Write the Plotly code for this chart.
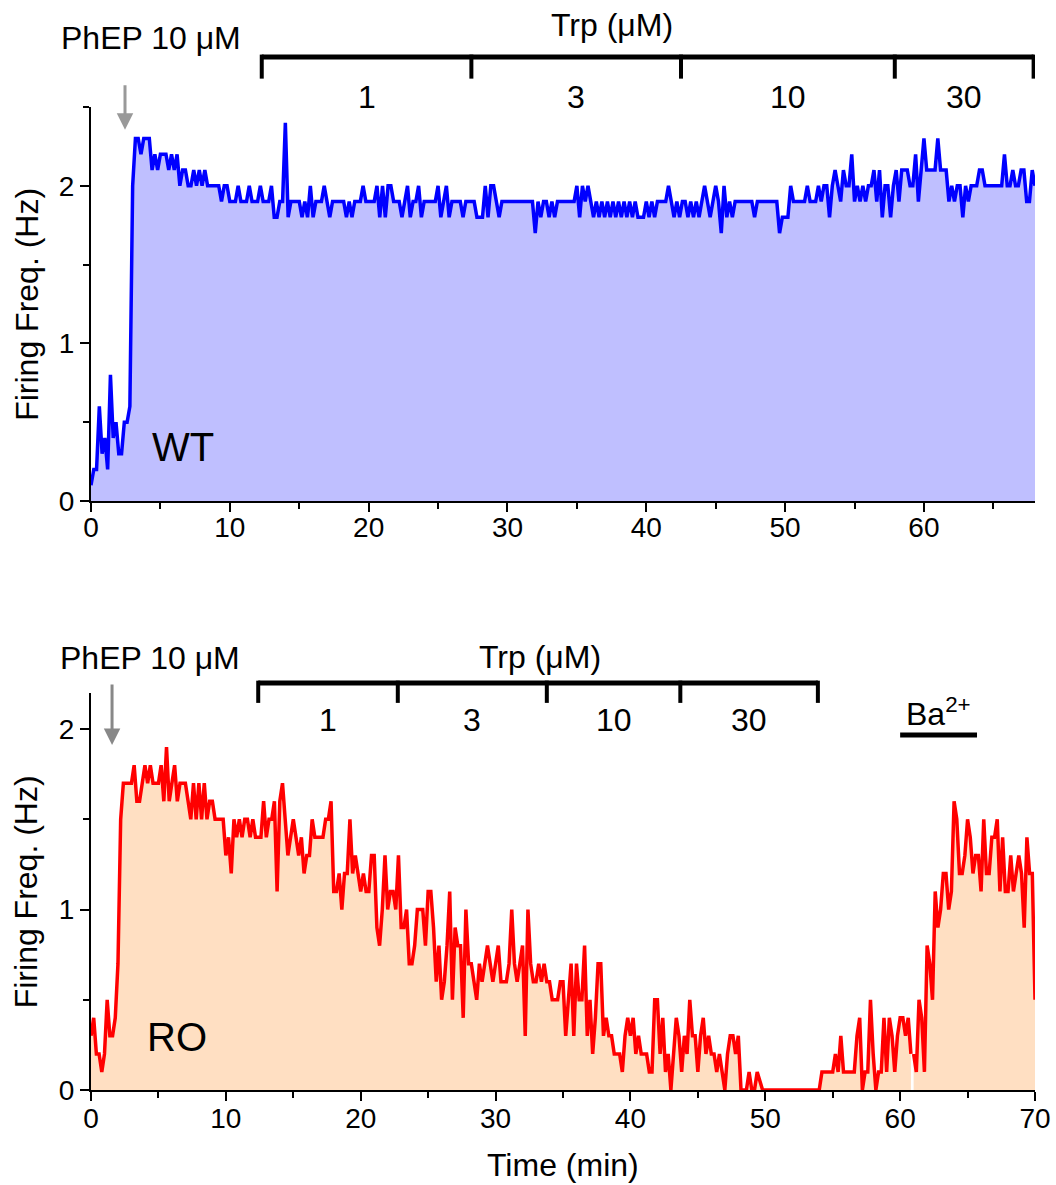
import numpy as np
import plotly.graph_objects as go

DT = 0.2  # minutes between samples

# WT firing frequency (Hz), 0.0 .. 68.0 min
WT_FREQ = [
    0.1, 0.2, 0.2, 0.6, 0.3, 0.4, 0.2, 0.8, 0.4, 0.5,
    0.3, 0.3, 0.5, 0.5, 0.6, 2.0, 2.3, 2.3, 2.2, 2.3,
    2.3, 2.3, 2.1, 2.2, 2.1, 2.2, 2.2, 2.2, 2.1, 2.2,
    2.1, 2.2, 2.0, 2.1, 2.1, 2.0, 2.0, 2.1, 2.0, 2.1,
    2.0, 2.1, 2.0, 2.0, 2.0, 2.0, 2.0, 1.9, 2.0, 2.0,
    1.9, 1.9, 1.9, 2.0, 1.9, 1.9, 1.9, 2.0, 1.9, 1.9,
    1.9, 2.0, 1.9, 1.9, 1.9, 2.0, 1.8, 1.8, 1.9, 1.9,
    2.4, 1.8, 1.9, 1.9, 1.9, 1.9, 1.8, 1.9, 1.8, 2.0,
    1.8, 1.9, 1.9, 1.9, 2.0, 1.9, 1.8, 1.9, 1.9, 1.9,
    1.9, 1.9, 1.8, 1.9, 1.8, 1.9, 1.9, 1.9, 2.0, 1.9,
    1.9, 1.9, 1.9, 2.0, 1.8, 2.0, 1.8, 2.0, 2.0, 1.9,
    1.9, 1.9, 1.8, 1.9, 2.0, 1.8, 1.9, 1.9, 2.0, 1.8,
    1.9, 1.9, 1.9, 1.9, 1.9, 2.0, 1.8, 1.9, 2.0, 1.8,
    1.9, 1.9, 1.9, 1.9, 1.8, 1.9, 1.9, 1.9, 1.9, 1.8,
    1.8, 1.8, 2.0, 1.8, 2.0, 2.0, 1.9, 1.8, 1.9, 1.9,
    1.9, 1.9, 1.9, 1.9, 1.9, 1.9, 1.9, 1.9, 1.9, 1.9,
    1.7, 1.9, 1.8, 1.9, 1.9, 1.8, 1.9, 1.8, 1.9, 1.9,
    1.9, 1.9, 1.9, 1.9, 1.9, 2.0, 1.8, 2.0, 1.9, 2.0,
    1.9, 1.8, 1.9, 1.8, 1.9, 1.8, 1.9, 1.8, 1.9, 1.8,
    1.9, 1.8, 1.9, 1.8, 1.9, 1.8, 1.9, 1.8, 1.8, 1.8,
    1.9, 1.8, 1.9, 1.8, 1.9, 1.9, 1.9, 1.9, 2.0, 1.9,
    1.8, 1.9, 1.8, 1.9, 1.9, 1.8, 1.9, 1.8, 1.9, 1.8,
    1.9, 2.0, 1.9, 1.8, 1.9, 2.0, 1.9, 1.7, 2.0, 1.8,
    1.9, 1.8, 1.9, 1.9, 1.9, 1.9, 1.9, 1.9, 1.9, 1.8,
    1.9, 1.9, 1.9, 1.9, 1.9, 1.9, 1.9, 1.9, 1.7, 1.8,
    1.8, 1.8, 2.0, 1.9, 1.9, 1.9, 1.9, 1.9, 2.0, 1.9,
    1.9, 1.9, 2.0, 1.9, 2.0, 2.0, 1.8, 2.0, 2.1, 2.0,
    1.9, 2.1, 2.0, 2.0, 2.2, 1.9, 2.0, 1.9, 2.0, 1.9,
    2.0, 2.0, 2.1, 1.9, 2.1, 1.8, 2.0, 2.0, 1.8, 2.0,
    2.1, 1.9, 2.1, 2.1, 2.1, 2.0, 2.0, 2.2, 1.9, 2.1,
    2.3, 2.1, 2.1, 2.1, 2.1, 2.3, 2.1, 2.1, 2.1, 1.9,
    2.0, 1.9, 2.0, 2.0, 1.8, 2.0, 1.9, 2.0, 2.0, 2.0,
    2.1, 2.1, 2.0, 2.0, 2.0, 2.0, 2.0, 2.0, 2.0, 2.2,
    2.0, 2.0, 2.1, 2.0, 2.0, 2.1, 2.1, 1.9, 1.9, 2.1,
    2.0,
]

# RO firing frequency (Hz), first segment 0.0 .. 60.8 min
RO_FREQ_A = [
    0.3, 0.4, 0.2, 0.2, 0.1, 0.2, 0.5, 0.3, 0.3, 0.4,
    0.7, 1.5, 1.7, 1.7, 1.7, 1.7, 1.8, 1.6, 1.6, 1.7,
    1.8, 1.7, 1.8, 1.7, 1.7, 1.7, 1.8, 1.6, 1.9, 1.6,
    1.7, 1.8, 1.6, 1.7, 1.7, 1.7, 1.6, 1.5, 1.7, 1.5,
    1.7, 1.5, 1.7, 1.5, 1.6, 1.6, 1.5, 1.5, 1.5, 1.5,
    1.3, 1.4, 1.2, 1.5, 1.4, 1.5, 1.4, 1.5, 1.5, 1.4,
    1.5, 1.4, 1.4, 1.4, 1.6, 1.4, 1.5, 1.5, 1.6, 1.1,
    1.6, 1.7, 1.5, 1.3, 1.4, 1.5, 1.4, 1.3, 1.4, 1.2,
    1.3, 1.3, 1.5, 1.4, 1.4, 1.4, 1.4, 1.5, 1.5, 1.6,
    1.1, 1.1, 1.2, 1.0, 1.2, 1.2, 1.5, 1.2, 1.3, 1.2,
    1.1, 1.2, 1.1, 1.1, 1.3, 1.3, 0.9, 0.8, 1.0, 1.3,
    1.0, 1.1, 1.1, 1.0, 1.3, 0.9, 0.9, 1.0, 0.7, 0.7,
    0.8, 1.0, 1.0, 1.0, 0.8, 1.1, 1.1, 0.9, 0.6, 0.8,
    0.5, 0.6, 0.8, 1.1, 0.5, 0.9, 0.8, 0.8, 0.4, 1.0,
    0.7, 0.7, 0.6, 0.5, 0.7, 0.6, 0.7, 0.8, 0.7, 0.6,
    0.7, 0.8, 0.6, 0.6, 0.6, 0.7, 1.0, 0.7, 0.6, 0.7,
    0.8, 0.3, 1.0, 0.7, 0.6, 0.6, 0.7, 0.6, 0.7, 0.6,
    0.6, 0.5, 0.5, 0.5, 0.6, 0.6, 0.3, 0.5, 0.7, 0.3,
    0.7, 0.5, 0.5, 0.8, 0.3, 0.5, 0.2, 0.4, 0.7, 0.7,
    0.3, 0.4, 0.3, 0.3, 0.2, 0.2, 0.2, 0.1, 0.3, 0.4,
    0.3, 0.4, 0.2, 0.3, 0.2, 0.2, 0.2, 0.1, 0.1, 0.5,
    0.5, 0.2, 0.4, 0.1, 0.2, 0.0, 0.2, 0.4, 0.3, 0.1,
    0.3, 0.2, 0.5, 0.3, 0.3, 0.1, 0.3, 0.4, 0.2, 0.3,
    0.2, 0.2, 0.1, 0.2, 0.1, 0.0, 0.2, 0.3, 0.3, 0.2,
    0.3, 0.0, 0.0, 0.0, 0.1, 0.0, 0.0, 0.1, 0.05, 0.0,
    0.0, 0.0, 0.0, 0.0, 0.0, 0.0, 0.0, 0.0, 0.0, 0.0,
    0.0, 0.0, 0.0, 0.0, 0.0, 0.0, 0.0, 0.0, 0.0, 0.0,
    0.0, 0.1, 0.1, 0.1, 0.1, 0.1, 0.2, 0.1, 0.3, 0.1,
    0.1, 0.1, 0.1, 0.1, 0.3, 0.4, 0.0, 0.1, 0.1, 0.5,
    0.2, 0.0, 0.1, 0.1, 0.4, 0.1, 0.4, 0.3, 0.1, 0.3,
    0.4, 0.4, 0.3, 0.4, 0.2,
]
# RO second segment (after Ba2+), 61.0 .. 70.0 min
RO_B_START = 61.0
RO_FREQ_B = [
    0.2, 0.1, 0.5, 0.4, 0.1, 0.8, 0.7, 0.5, 1.1, 0.9,
    1.0, 1.2, 1.2, 1.0, 1.1, 1.6, 1.5, 1.2, 1.2, 1.3,
    1.5, 1.4, 1.2, 1.3, 1.3, 1.1, 1.5, 1.2, 1.2, 1.4,
    1.4, 1.5, 1.1, 1.4, 1.1, 1.1, 1.3, 1.1, 1.2, 1.3,
    1.2, 0.9, 1.4, 1.2, 1.2, 0.5,
]

WT_TRP_EDGES = [12.3, 27.4, 42.5, 57.9, 67.9]
RO_TRP_EDGES = [12.4, 22.75, 33.8, 43.7, 53.9]
TRP_LABELS = ["1", "3", "10", "30"]
BA_SPAN = [60.0, 65.7]
WT_PHEP_TIME = 2.45
RO_PHEP_TIME = 1.56

FONT = "Liberation Sans, Arial, sans-serif"
TICK_SIZE = 28
TEXT_SIZE = 32
LABEL_SIZE = 40

t_wt = np.round(np.arange(len(WT_FREQ)) * DT, 3)
t_ro_a = np.round(np.arange(len(RO_FREQ_A)) * DT, 3)
t_ro_b = np.round(RO_B_START + np.arange(len(RO_FREQ_B)) * DT, 3)

fig = go.Figure()
fig.add_trace(go.Scatter(x=t_wt, y=WT_FREQ, mode="lines",
                         line=dict(color="#0000FF", width=3.5),
                         fill="tozeroy", fillcolor="#BFBFFF",
                         xaxis="x", yaxis="y", showlegend=False))
fig.add_trace(go.Scatter(x=t_ro_a, y=RO_FREQ_A, mode="lines",
                         line=dict(color="#FF0000", width=3.5),
                         fill="tozeroy", fillcolor="#FFDFC2",
                         xaxis="x2", yaxis="y2", showlegend=False))
fig.add_trace(go.Scatter(x=t_ro_b, y=RO_FREQ_B, mode="lines",
                         line=dict(color="#FF0000", width=3.5),
                         fill="tozeroy", fillcolor="#FFDFC2",
                         xaxis="x2", yaxis="y2", showlegend=False))

axis_common = dict(showline=True, linecolor="black", linewidth=2,
                   ticks="outside", ticklen=9, tickwidth=2, tickcolor="black",
                   showgrid=False, zeroline=False, mirror=False,
                   tickfont=dict(family=FONT, size=TICK_SIZE, color="black"),
                   automargin=False)
minor_common = dict(ticklen=6, tickwidth=2, tickcolor="black", ticks="outside")

fig.update_layout(
    width=1056, height=1185,
    margin=dict(l=91, r=21, t=107, b=95),
    paper_bgcolor="white", plot_bgcolor="white",
    font=dict(family=FONT, color="black"),
    xaxis=dict(domain=[0, 1], anchor="y", range=[0, 68], dtick=10, tick0=0,
               ticklabelstandoff=-9,
               minor=dict(dtick=5, **minor_common), **axis_common),
    yaxis=dict(domain=[0.5992, 1.0], anchor="x", range=[0, 2.5], dtick=1, tick0=0,
               minor=dict(dtick=0.5, **minor_common), **axis_common),
    xaxis2=dict(domain=[0, 1], anchor="y2", range=[0, 70], dtick=10, tick0=0,
                ticklabelstandoff=-7,
                minor=dict(dtick=5, **minor_common), **axis_common),
    yaxis2=dict(domain=[0, 0.4039], anchor="x2", range=[0, 2.2], dtick=1, tick0=0,
                minor=dict(dtick=0.5, **minor_common), **axis_common),
)

shapes = []
annotations = []


def bracket(xref, yref, edges, ybar, ytick, pad):
    shapes.append(dict(type="line", xref=xref, yref=yref, x0=edges[0], x1=edges[-1],
                       y0=ybar, y1=ybar, line=dict(color="black", width=5)))
    for e in edges:
        shapes.append(dict(type="line", xref=xref, yref=yref, x0=e, x1=e,
                           y0=ybar + pad, y1=ytick, line=dict(color="black", width=4)))


def text(xref, yref, x, y, s, size=TEXT_SIZE, **kw):
    annotations.append(dict(xref=xref, yref=yref, x=x, y=y, text=s, showarrow=False,
                            font=dict(family=FONT, size=size, color="black"),
                            xanchor="center", yanchor="middle", **kw))


# --- top panel (WT) ---
bracket("x", "y domain", WT_TRP_EDGES, 1.127, 1.072, 0.006)
for i, lab in enumerate(TRP_LABELS):
    text("x", "y domain", (WT_TRP_EDGES[i] + WT_TRP_EDGES[i + 1]) / 2, 1.025, lab)
text("x", "y domain", 37.5, 1.208, "Trp (μM)")
text("x", "y domain", 4.3, 1.175, "PhEP 10 μM")
annotations.append(dict(xref="x", yref="y domain", x=WT_PHEP_TIME, y=0.942, text="",
                        showarrow=True, ax=0, ay=-46, arrowcolor="#999999",
                        arrowwidth=3, arrowhead=2, arrowsize=1.1))
text("x", "y domain", 6.6, 0.137, "WT", size=LABEL_SIZE)
text("paper", "y domain", -0.068, 0.5, "Firing Freq. (Hz)", textangle=-90)

# --- bottom panel (RO) ---
bracket("x2", "y2 domain", RO_TRP_EDGES, 1.025, 0.975, 0.006)
for i, lab in enumerate(TRP_LABELS):
    text("x2", "y2 domain", (RO_TRP_EDGES[i] + RO_TRP_EDGES[i + 1]) / 2, 0.932, lab)
text("x2", "y2 domain", 33.3, 1.09, "Trp (μM)")
text("x2", "y2 domain", 4.37, 1.088, "PhEP 10 μM")
annotations.append(dict(xref="x2", yref="y2 domain", x=RO_PHEP_TIME, y=0.869, text="",
                        showarrow=True, ax=0, ay=-62, arrowcolor="#888888",
                        arrowwidth=3, arrowhead=2, arrowsize=1.1))
shapes.append(dict(type="line", xref="x2", yref="y2 domain", x0=BA_SPAN[0], x1=BA_SPAN[1],
                   y0=0.894, y1=0.894, line=dict(color="black", width=5)))
text("x2", "y2 domain", (BA_SPAN[0] + BA_SPAN[1]) / 2, 0.952, "Ba<sup>2+</sup>")
text("x2", "y2 domain", 6.4, 0.134, "RO", size=LABEL_SIZE)
text("paper", "y2 domain", -0.068, 0.5, "Firing Freq. (Hz)", textangle=-90)
text("paper", "paper", 0.5, -0.0763, "Time (min)")

fig.update_layout(shapes=shapes, annotations=annotations)
fig.write_html("out.html")
